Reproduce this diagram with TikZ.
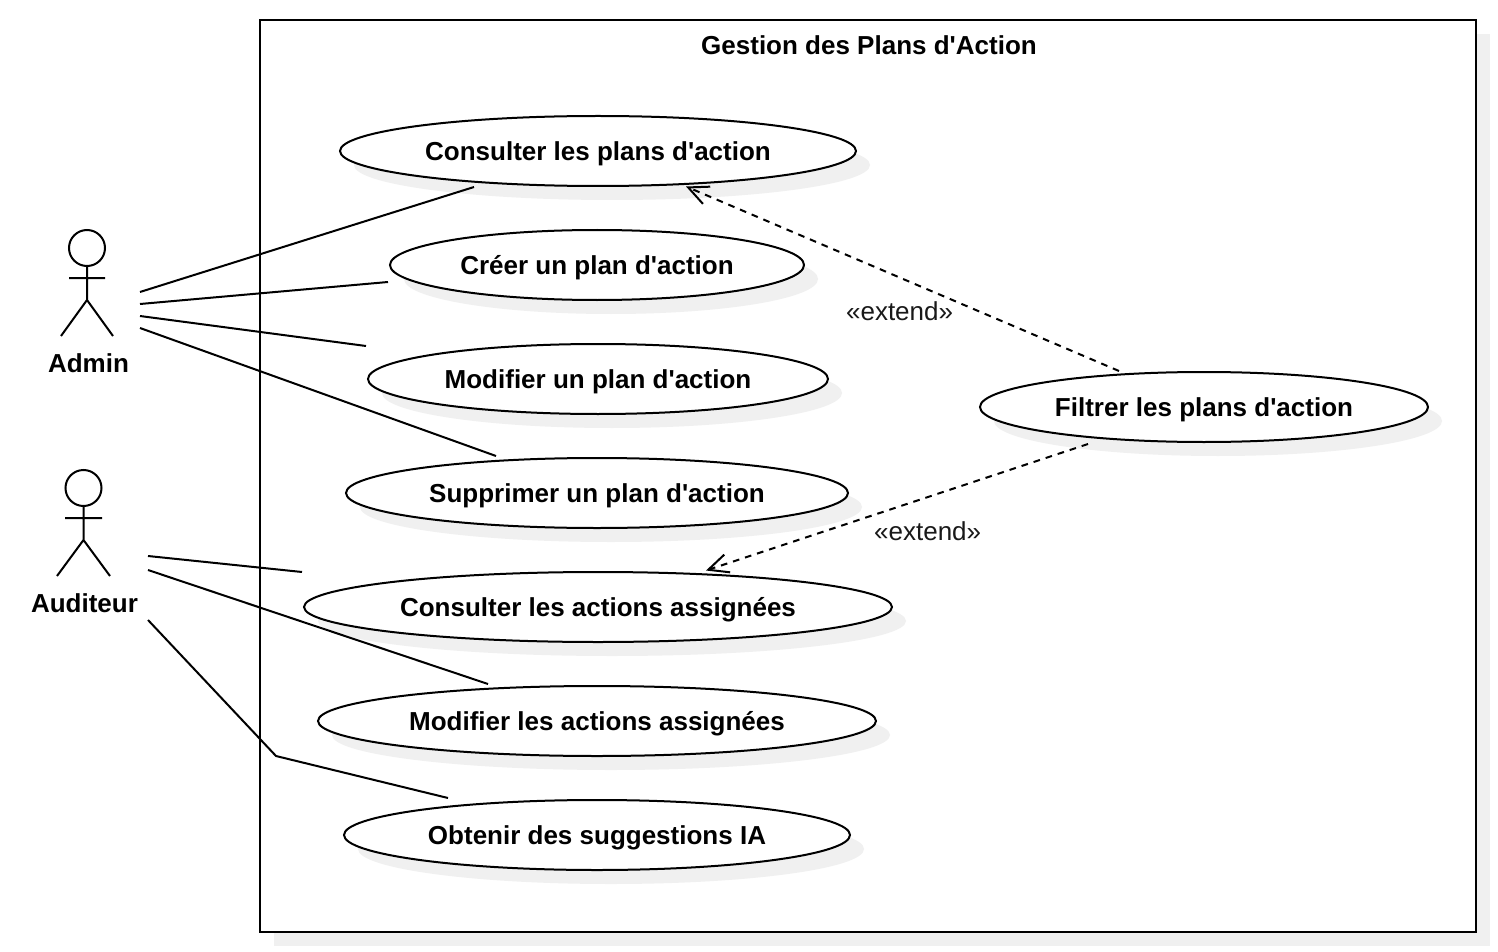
\documentclass[tikz,border=0pt]{standalone}
\usepackage{fontspec}
\setmainfont[Ligatures=TeXOff]{Liberation Sans}
\usetikzlibrary{arrows.meta, positioning, shapes.geometric, shadows, calc}
\definecolor{shadowgray}{HTML}{F0F0F0}
\tikzset{
  flatshadow/.style={drop shadow={shadow xshift=10.5pt, shadow yshift=-10.5pt, opacity=1, fill=shadowgray}},
  usecase/.style={draw, ellipse, flatshadow, fill=white, line width=1.5pt, outer sep=0pt, inner sep=0pt, minimum height=52.5pt, text depth=0pt, font=\fontsize{19.5}{23}\selectfont\bfseries},
  actorhead/.style={draw, circle, line width=1.5pt, inner sep=0pt, outer sep=0pt, minimum size=27pt},
  actorlabel/.style={font=\fontsize{19.5}{23}\selectfont\bfseries},
  extendlabel/.style={font=\fontsize{19.5}{23}\selectfont, text=black!90},
  assoc/.style={line width=1.5pt},
  extendflow/.style={line width=1.5pt, dash pattern=on 5pt off 4.5pt, -{Straight Barb[length=15pt, width=14pt, line width=1.5pt]}},
}

\begin{document}
\begin{tikzpicture}[x=0.75pt, y=-0.75pt, node distance=33pt]
  \useasboundingbox (0,0) rectangle (1498,952);

  % system frame
  \node[draw, flatshadow, fill=white, line width=1.5pt, outer sep=0pt, inner sep=0pt, minimum width=912pt, minimum height=684pt] (system) at (868,476) {};
  \node[actorlabel] (title) at (869,45) {Gestion des Plans d'Action};

  % use cases
  \node[usecase, minimum width=387pt] (consulter) at (598,151) {Consulter les plans d'action};
  \node[usecase, minimum width=310.5pt, below=of consulter, xshift=-0.75pt] (creer) {Créer un plan d'action};
  \node[usecase, minimum width=345pt, below=of creer, xshift=0.75pt] (modifier) {Modifier un plan d'action};
  \node[usecase, minimum width=376.5pt, below=of modifier, xshift=-0.75pt] (supprimer) {Supprimer un plan d'action};
  \node[usecase, minimum width=441pt, below=of supprimer, xshift=0.75pt] (assignees) {Consulter les actions assignées};
  \node[usecase, minimum width=418.5pt, below=of assignees, xshift=-0.75pt] (modifassign) {Modifier les actions assignées};
  \node[usecase, minimum width=379.5pt, below=of modifassign] (suggest) {Obtenir des suggestions IA};
  \node[usecase, minimum width=336pt] (filtrer) at (1204,407) {Filtrer les plans d'action};

  % actors
  \node[actorhead] (adminhead) at (87,248) {};
  \draw[assoc] (adminhead.south) -- (87,300) -- (61,336) (87,300) -- (113,336) (69,278) -- (105,278);
  \node[actorlabel] (admin) at (88.5,363) {Admin};

  \node[actorhead] (auditeurhead) at (83.5,488) {};
  \draw[assoc] (auditeurhead.south) -- (83.5,540) -- (57,576) (83.5,540) -- (110,576) (65,518) -- (102,518);
  \node[actorlabel] (auditeur) at (84.5,603) {Auditeur};

  % free ends beside the actors
  \coordinate (adminA) at (140,292);
  \coordinate (adminB) at (140,304);
  \coordinate (adminC) at (140,316);
  \coordinate (adminD) at (140,328);
  \coordinate (auditA) at (148,556);
  \coordinate (auditB) at (148,570);
  \coordinate (auditC) at (148,620);
  \coordinate (auditBend) at (276,756);

  \draw[assoc] (adminA) -- ($(consulter)+(-124,36)$);
  \draw[assoc] (adminB) -- ($(creer)+(-209,17)$);
  \draw[assoc] (adminC) -- ($(modifier)+(-232,-33)$);
  \draw[assoc] (adminD) -- ($(supprimer)+(-101,-37)$);
  \draw[assoc] (auditA) -- ($(assignees)+(-296,-35)$);
  \draw[assoc] (auditB) -- ($(modifassign)+(-109,-37)$);
  \draw[assoc] (auditC) -- (auditBend) -- ($(suggest)+(-149,-37)$);

  \draw[extendflow] ($(filtrer)+(-85,-36)$) -- node[extendlabel, xshift=-2.2pt, yshift=-24pt] (extendA) {«extend»} ($(consulter)+(88,35.5)$);
  \draw[extendflow] ($(filtrer)+(-116,37)$) -- node[extendlabel, xshift=23pt, yshift=-18pt] (extendB) {«extend»} ($(assignees)+(108,-36.5)$);
\end{tikzpicture}
\end{document}
